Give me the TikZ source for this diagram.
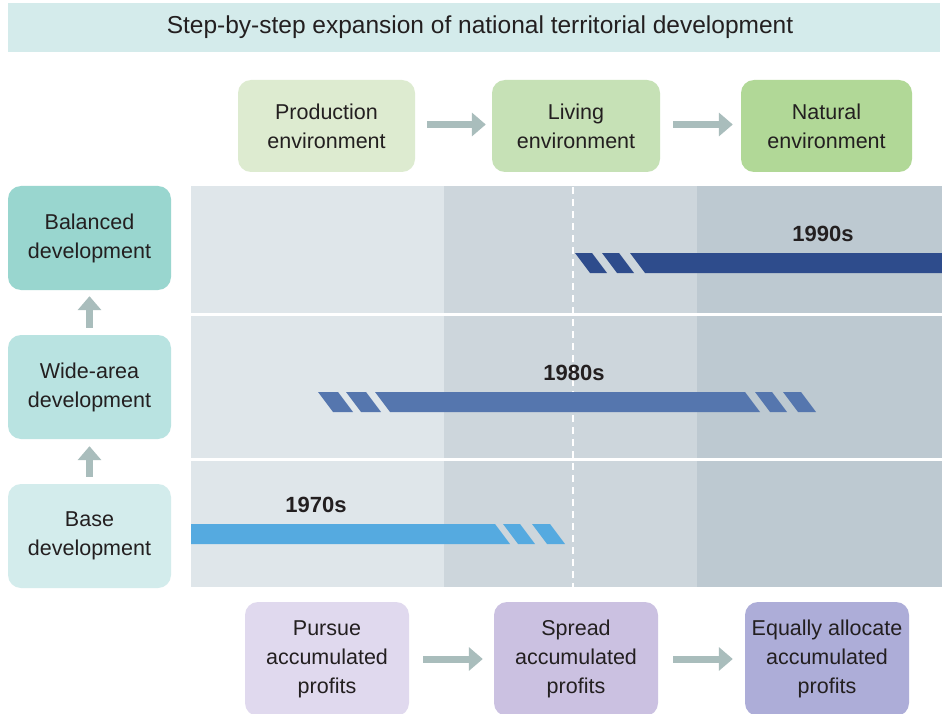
\documentclass[tikz,border=0pt]{standalone}
\usepackage{fontspec}
\setmainfont{Liberation Sans}
\usetikzlibrary{arrows.meta}
\definecolor{titlec}{HTML}{D4EBEB}
\definecolor{prodc}{HTML}{DDEBD0}
\definecolor{livc}{HTML}{C6E1B6}
\definecolor{natc}{HTML}{B1D897}
\definecolor{balc}{HTML}{99D6CF}
\definecolor{widec}{HTML}{B9E3E1}
\definecolor{basec}{HTML}{D3ECEC}
\definecolor{purc}{HTML}{E0D9EE}
\definecolor{sprc}{HTML}{CBC1E1}
\definecolor{equc}{HTML}{ADADD8}
\definecolor{colA}{HTML}{DFE6EA}
\definecolor{colB}{HTML}{CDD6DC}
\definecolor{colC}{HTML}{BDC9D1}
\definecolor{cninety}{HTML}{2E4C8C}
\definecolor{ceighty}{HTML}{5576AE}
\definecolor{cseventy}{HTML}{55AAE0}
\definecolor{arrowgray}{HTML}{A9BDBC}
\definecolor{txtc}{HTML}{231F20}
\tikzset{
  txt/.style={font=\fontsize{21.5}{29}\selectfont, text=txtc, align=center},
  box/.style={txt, rounded corners=13pt, inner sep=0pt},
  topbox/.style={box, minimum height=92pt},
  leftbox/.style={box, minimum width=163pt, minimum height=104pt},
  botbox/.style={box, minimum width=164pt, minimum height=114pt},
  yearlbl/.style={font=\fontsize{22}{26}\selectfont\bfseries, text=txtc},
  garrow/.style={draw=arrowgray, line width=7pt, -{Triangle[length=14pt,width=23pt]}},
}
\begin{document}
\begin{tikzpicture}[x=1pt,y=-1pt]
\fill[white] (0,0) rectangle (942,714);
\useasboundingbox (0,0) rectangle (942,714);
% title
\fill[titlec] (8,3) rectangle (940,52);
\node[txt, font=\fontsize{24.5}{28}\selectfont] (title) at (480,27) {Step-by-step expansion of national territorial development};
% grid
\fill[colA] (191,186) rectangle (443.5,587);
\fill[colB] (443.5,186) rectangle (697,587);
\fill[colC] (697,186) rectangle (942,587);
\draw[white, line width=3pt] (191,314) -- (942,314);
\draw[white, line width=3pt] (191,459) -- (942,459);
\draw[white, line width=2pt, dash pattern=on 7pt off 5pt] (573,187) -- (573,587);
% 1990s bar
\fill[cninety] (575,253) -- (592,253) -- (607,273) -- (590,273) -- cycle;
\fill[cninety] (602,253) -- (619,253) -- (634,273) -- (617,273) -- cycle;
\fill[cninety] (630,253) -- (942,253) -- (942,273) -- (645,273) -- cycle;
% 1980s bar
\fill[ceighty] (318,392) -- (338,392) -- (353,412) -- (333,412) -- cycle;
\fill[ceighty] (346,392) -- (366,392) -- (381,412) -- (361,412) -- cycle;
\fill[ceighty] (375,392) -- (745,392) -- (760,412) -- (390,412) -- cycle;
\fill[ceighty] (755,392) -- (772,392) -- (787,412) -- (770,412) -- cycle;
\fill[ceighty] (783,392) -- (801,392) -- (816,412) -- (798,412) -- cycle;
% 1970s bar
\fill[cseventy] (191,524) -- (495,524) -- (510,544) -- (191,544) -- cycle;
\fill[cseventy] (503,524) -- (520,524) -- (535,544) -- (518,544) -- cycle;
\fill[cseventy] (532,524) -- (550,524) -- (565,544) -- (547,544) -- cycle;
% year labels
\node[yearlbl] (y90) at (823,234) {1990s};
\node[yearlbl] (y80) at (574,373) {1980s};
\node[yearlbl] (y70) at (316,505) {1970s};
% top boxes
\node[topbox, fill=prodc, minimum width=177pt] (prod) at (326.5,126) {Production\\environment};
\node[topbox, fill=livc, minimum width=168pt] (living) at (576,126) {Living\\environment};
\node[topbox, fill=natc, minimum width=171pt] (natural) at (826.5,126) {Natural\\environment};
\draw[garrow, shorten <=12pt, shorten >=6pt] ([yshift=1.5pt]prod.east) -- ([yshift=1.5pt]living.west);
\draw[garrow, shorten <=13pt, shorten >=8pt] ([yshift=1.5pt]living.east) -- ([yshift=1.5pt]natural.west);
% left boxes
\node[leftbox, fill=balc] (bal) at (89.5,238) {Balanced\\development};
\node[leftbox, fill=widec] (wide) at (89.5,387) {Wide-area\\development};
\node[leftbox, fill=basec] (base) at (89.5,536) {Base\\development};
\draw[garrow, shorten <=7pt, shorten >=6pt] (wide.north) -- (bal.south);
\draw[garrow, shorten <=7pt, shorten >=7pt] (base.north) -- (wide.south);
% bottom boxes
\node[botbox, fill=purc] (pursue) at (327,659) {Pursue\\accumulated\\profits};
\node[botbox, fill=sprc] (spread) at (576,659) {Spread\\accumulated\\profits};
\node[botbox, fill=equc] (equal) at (827,659) {Equally allocate\\accumulated\\profits};
\draw[garrow, shorten <=14pt, shorten >=11pt] (pursue.east) -- (spread.west);
\draw[garrow, shorten <=15pt, shorten >=12pt] (spread.east) -- (equal.west);
\end{tikzpicture}
\end{document}
